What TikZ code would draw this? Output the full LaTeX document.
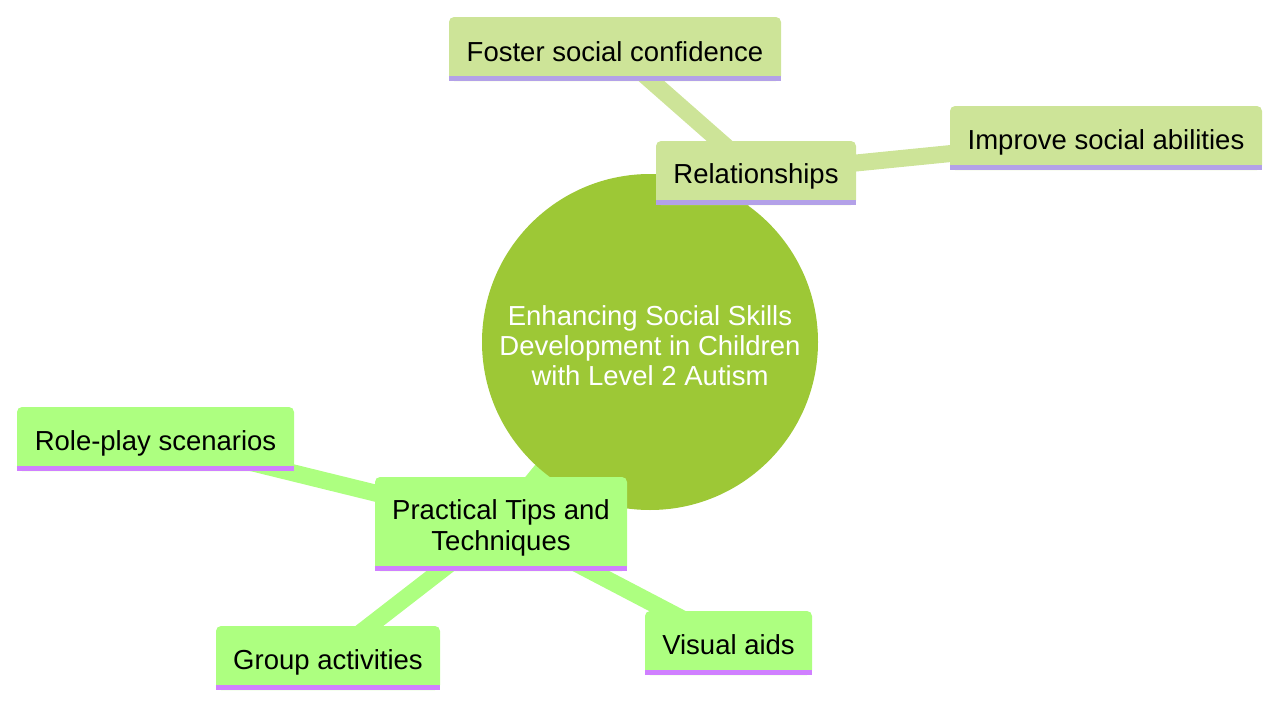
\documentclass[tikz,border=0pt]{standalone}
\usepackage{fontspec}
\setmainfont{Liberation Sans}
\usetikzlibrary{backgrounds}
\definecolor{rootc}{HTML}{9DC836}
\definecolor{relfill}{HTML}{CDE498}
\definecolor{relbar}{HTML}{B3A1E8}
\definecolor{pfill}{HTML}{ADFF80}
\definecolor{pbar}{HTML}{D080FF}
\begin{document}
\begin{tikzpicture}[x=1pt,y=-1pt,
  box/.style={rectangle, rounded corners=5pt, inner sep=0pt, minimum height=64pt},
  lbl/.style={anchor=base, font=\fontsize{27.5}{30.5}\selectfont, inner sep=0pt, text=black},
  rootreledge/.style={draw=relfill, line width=22pt},
  rootpedge/.style={draw=pfill, line width=22pt},
  reledge/.style={draw=relfill, line width=17pt},
  pedge/.style={draw=pfill, line width=17pt}
]
\useasboundingbox (0,0) rectangle (1280,704);

% root
\node[circle, fill=rootc, minimum size=336pt, inner sep=0pt] (root) at (650,342) {};

% relationships branch
\node[box, fill=relfill, minimum width=200pt] (rel) at (756,173) {};
\node[box, fill=relfill, minimum width=332pt] (foster) at (615,49) {};
\node[box, fill=relfill, minimum width=312pt] (improve) at (1106,138) {};

% practical branch
\node[box, fill=pfill, minimum width=252pt, minimum height=94pt] (prac) at (501,524) {};
\node[box, fill=pfill, minimum width=277pt] (role) at (155.5,439) {};
\node[box, fill=pfill, minimum width=224pt] (group) at (328,658) {};
\node[box, fill=pfill, minimum width=167pt] (visual) at (728.5,643) {};

% bars
\foreach \n in {rel,foster,improve}
  \fill[relbar] (\n.south west) rectangle ([yshift=5pt]\n.south east);
\foreach \n in {prac,role,group,visual}
  \fill[pbar] (\n.south west) rectangle ([yshift=5pt]\n.south east);

% edges
\begin{pgfonlayer}{background}
  \draw[rootreledge] (root.center) -- (rel.center);
  \draw[rootpedge] (root.center) -- (prac.center);
  \draw[reledge] (rel.center) -- (foster.center);
  \draw[reledge] (rel.center) -- (improve.center);
  \draw[pedge] (prac.center) -- (role.center);
  \draw[pedge] (prac.center) -- (group.center);
  \draw[pedge] (prac.center) -- (visual.center);
\end{pgfonlayer}

% labels
\node[lbl, text=white] (rootT1) at (650,325) {Enhancing Social Skills};
\node[lbl, text=white] (rootT2) at (650,355) {Development in Children};
\node[lbl, text=white] (rootT3) at (650,385) {with Level 2 Autism};
\node[lbl] (relT) at (756,183.5) {Relationships};
\node[lbl] (fosterT) at (615,61) {Foster social confidence};
\node[lbl] (improveT) at (1106,149) {Improve social abilities};
\node[lbl] (pracT1) at (501,519) {Practical Tips and};
\node[lbl] (pracT2) at (501,550) {Techniques};
\node[lbl] (roleT) at (155.5,450.5) {Role-play scenarios};
\node[lbl] (groupT) at (328,669) {Group activities};
\node[lbl] (visualT) at (728.5,654) {Visual aids};
\end{tikzpicture}
\end{document}
